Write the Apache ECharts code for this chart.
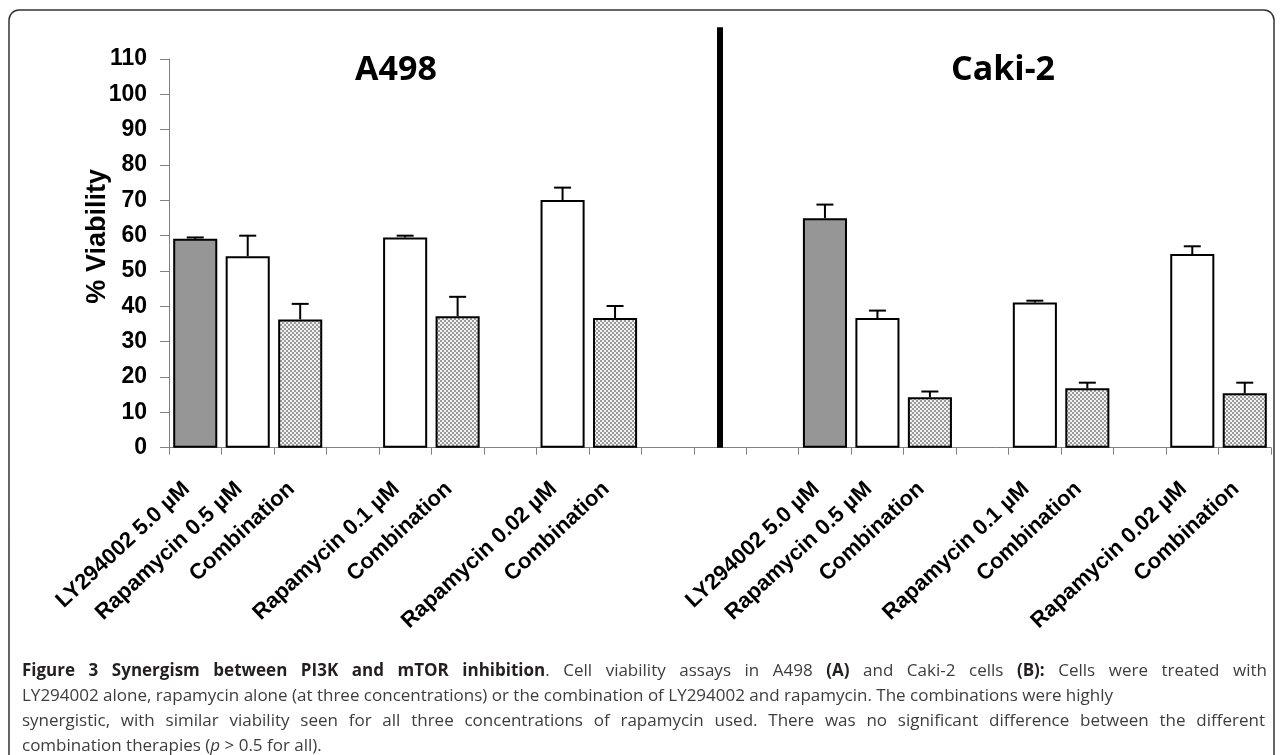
<!DOCTYPE html>
<html>
<head>
<meta charset="utf-8">
<script src="https://cdn.jsdelivr.net/npm/echarts@6/dist/echarts.min.js"></script>
<style>html,body{margin:0;padding:0;background:#fff;}#c{width:1282px;height:755px;}</style>
</head>
<body>
<div id="c"></div>
<script>
// ---- data ----
const categories = ['LY294002 5.0 µM','Rapamycin 0.5 µM','Combination','','Rapamycin 0.1 µM','Combination','','Rapamycin 0.02 µM','Combination','','','',
  'LY294002 5.0 µM','Rapamycin 0.5 µM','Combination','','Rapamycin 0.1 µM','Combination','','Rapamycin 0.02 µM','Combination'];
const barType   = ['gray','white','hatch',null,'white','hatch',null,'white','hatch',null,null,null,'gray','white','hatch',null,'white','hatch',null,'white','hatch'];
const viability = [59.1,54.2,36.3,null,59.5,37.2,null,70.1,36.7,null,null,null,64.9,36.7,14.3,null,41.1,16.8,null,54.8,15.4];
const errorUp   = [0.4,5.8,4.4,null,0.5,5.5,null,3.5,3.4,null,null,null,3.9,2.1,1.6,null,0.5,1.6,null,2.2,3.0];
const yTicks = {min:0, max:110, interval:10};
const dividerCategory = 10;
const dividerTop = 119;
const panelTitles = ['A498','Caki-2'];
const captionLines = [
  [['b','Figure 3 Synergism between PI3K and mTOR inhibition'],['r','. Cell viability assays in A498 '],['b','(A)'],['r',' and Caki-2 cells '],['b','(B):'],['r',' Cells were treated with']],
  [['r','LY294002 alone, rapamycin alone (at three concentrations) or the combination of LY294002 and rapamycin. The combinations were highly']],
  [['r','synergistic, with similar viability seen for all three concentrations of rapamycin used. There was no significant difference between the different']],
  [['r','combination therapies ('],['i','p'],['r',' > 0.5 for all).']]
];

// ---- styles / layout ----
const captionRight = [1267, null, 1265, null];
const captionLeft = 22, captionTop = 659, captionLH = 25;
const capFonts = {
  b:'bold 17px "Open Sans", sans-serif',
  r:'17px "Open Sans", sans-serif',
  i:'italic 17px "Open Sans", sans-serif'
};
const capColors = {b:'#231f20', r:'#3d3d3d', i:'#3d3d3d'};

const pc = document.createElement('canvas');
pc.width = 4; pc.height = 4;
const g = pc.getContext('2d');
g.fillStyle = '#f2f2f2'; g.fillRect(0,0,4,4);
g.fillStyle = '#9a9a9a'; g.fillRect(0,0,2,2); g.fillRect(2,2,2,2);
const fills = {gray:'#969696', white:'#ffffff', hatch:{image:pc, repeat:'repeat'}};

function barSeries(type){
  return {
    type:'bar', name:type, barWidth:'84%', barGap:'-100%',
    itemStyle:{color:fills[type], borderColor:'#000', borderWidth:2},
    data: viability.map((v,i)=> barType[i]===type ? v : null),
    z:2, silent:true
  };
}

const errData = [];
viability.forEach((v,i)=>{ if(v!=null && errorUp[i]!=null) errData.push([i, v, v+errorUp[i]]); });

// caption words with justification
const mc = document.createElement('canvas').getContext('2d');
function measure(style, t){ mc.font = capFonts[style]; return mc.measureText(t).width; }
const captionGraphics = [];
captionLines.forEach((parts, li)=>{
  const words = []; let cur = [];
  parts.forEach(([st, txt])=>{
    txt.split(' ').forEach((seg, k)=>{
      if (k>0){ if(cur.length) words.push(cur); cur = []; }
      if (seg.length) cur.push([st, seg]);
    });
  });
  if (cur.length) words.push(cur);
  const widths = words.map(w=> w.reduce((s,[st,t])=> s+measure(st,t), 0));
  const total = widths.reduce((a,b)=>a+b,0);
  const right = captionRight[li];
  const gap = right ? (right - captionLeft - total)/(words.length-1) : measure('r',' ');
  let x = captionLeft;
  words.forEach((w, wi)=>{
    captionGraphics.push({
      type:'text', x:x, y:captionTop + li*captionLH, silent:true,
      style:{
        text: w.map(([st,t])=>'{'+st+'|'+t+'}').join(''),
        textVerticalAlign:'top',
        rich:{
          b:{font:capFonts.b, fill:capColors.b, lineHeight:captionLH},
          r:{font:capFonts.r, fill:capColors.r, lineHeight:captionLH},
          i:{font:capFonts.i, fill:capColors.i, lineHeight:captionLH}
        }
      }
    });
    x += widths[wi] + gap;
  });
});

const chart = echarts.init(document.getElementById('c'), null, {renderer:'canvas'});
const txtFont = '"Liberation Sans", Arial, sans-serif';
chart.setOption({
  animation:false,
  backgroundColor:'#fff',
  grid:{left:169, right:11, top:59, bottom:307.3, containLabel:false},
  xAxis:{
    type:'category', data:categories.map((c,i)=>String(i)), boundaryGap:true,
    axisLine:{lineStyle:{color:'#808080', width:1}},
    axisTick:{show:true, length:7, lineStyle:{color:'#808080'}},
    axisLabel:{interval:0, rotate:43, margin:30, padding:[0,12,0,0], color:'#000', fontFamily:txtFont, fontWeight:'bold', fontSize:22,
      formatter:(v)=>categories[+v]}
  },
  yAxis:{
    type:'value', min:yTicks.min, max:yTicks.max, interval:yTicks.interval,
    name:'% Viability', nameLocation:'middle', nameRotate:90, nameGap:58, nameMoveOverlap:false,
    nameTextStyle:{color:'#000', fontFamily:txtFont, fontWeight:'bold', fontSize:27, padding:[0,0,0,34]},
    axisLine:{show:true, lineStyle:{color:'#808080', width:1}},
    axisTick:{show:true, length:9, lineStyle:{color:'#808080'}},
    axisLabel:{margin:22, color:'#000', fontFamily:txtFont, fontWeight:'bold', fontSize:23},
    splitLine:{show:false}
  },
  series:[
    barSeries('gray'), barSeries('white'), barSeries('hatch'),
    {
      type:'custom', name:'error', data:errData, z:3, silent:true, clip:false,
      encode:{x:0, y:[1,2]},
      renderItem:(params, api)=>{
        const p0 = api.coord([api.value(0), api.value(1)]);
        const p1 = api.coord([api.value(0), api.value(2)]);
        const half = 8.5;
        return {type:'group', children:[
          {type:'line', shape:{x1:p0[0], y1:p0[1], x2:p1[0], y2:p1[1]}, style:{stroke:'#000', lineWidth:2}},
          {type:'line', shape:{x1:p1[0]-half, y1:p1[1], x2:p1[0]+half, y2:p1[1]}, style:{stroke:'#000', lineWidth:2}}
        ]};
      }
    },
    {
      type:'custom', name:'divider', data:[[dividerCategory, 0, dividerTop]], z:4, silent:true, clip:false,
      encode:{x:0, y:[1,2]},
      renderItem:(params, api)=>{
        const p0 = api.coord([api.value(0), api.value(1)]);
        const p1 = api.coord([api.value(0), api.value(2)]);
        return {type:'line', shape:{x1:p0[0], y1:p0[1], x2:p1[0], y2:p1[1]}, style:{stroke:'#000', lineWidth:6}};
      }
    }
  ],
  graphic:[
    {type:'rect', shape:{x:9, y:10, width:1265, height:790, r:10}, style:{fill:'none', stroke:'#333', lineWidth:1.5}, silent:true},
    {type:'text', x:396, y:70, style:{text:panelTitles[0], font:'bold 34px "Open Sans", sans-serif', fill:'#000', textAlign:'center', textVerticalAlign:'middle'}},
    {type:'text', x:1003, y:70, style:{text:panelTitles[1], font:'bold 34px "Open Sans", sans-serif', fill:'#000', textAlign:'center', textVerticalAlign:'middle'}}
  ].concat(captionGraphics)
});
</script>
</body>
</html>
